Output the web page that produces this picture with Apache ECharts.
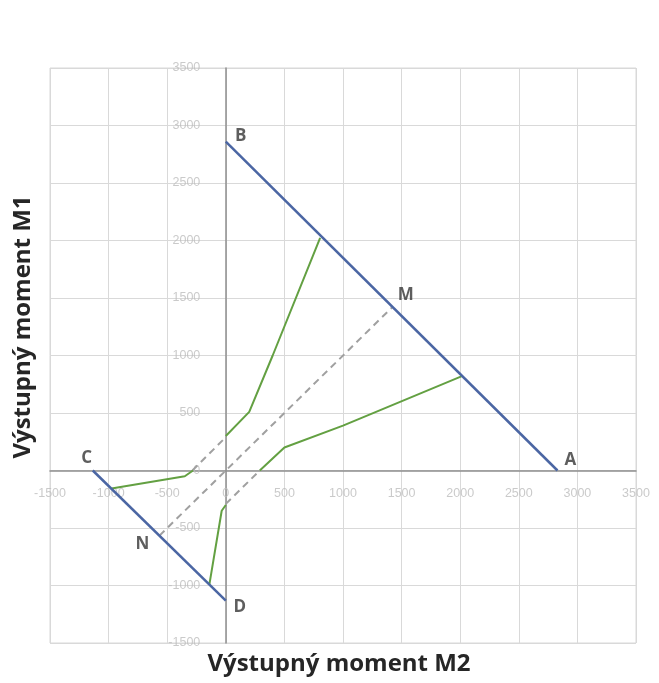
<!DOCTYPE html>
<html>
<head>
<meta charset="utf-8">
<script src="https://cdn.jsdelivr.net/npm/echarts@6/dist/echarts.min.js"></script>
<style>
html,body{margin:0;padding:0;background:#fff;}
#chart{width:659px;height:683px;}
</style>
</head>
<body>
<div id="chart"></div>
<script>
// ---- data ----
var xTitle = 'Výstupný moment M2';
var yTitle = 'Výstupný moment M1';
var axisMin = -1500, axisMax = 3500, axisStep = 500;
var xTickLabels = [-1500, -1000, -500, 0, 500, 1000, 1500, 2000, 2500, 3000, 3500];
var yTickLabels = [-1500, -1000, -500, 0, 500, 1000, 1500, 2000, 2500, 3000, 3500];

var lineBA = [[0, 2860], [2830, 0]];
var lineCD = [[-1135, 0], [0, -1131]];
var greenUpper = [[0, 300], [200, 510], [400, 1000], [805, 2023]];
var greenLower = [[290, 0], [500, 200], [1000, 390], [2010, 818]];
var greenLeft = [[-975, -156], [-350, -50], [-280, 0]];
var greenBottom = [[-140, -990], [-35, -350], [0, -300]];
var dashMid = [[-566, -566], [1416, 1416]];
var dashUpper = [[-285, 0], [0, 290]];
var dashLower = [[0, -290], [290, 0]];

var pointNames = ['A', 'B', 'C', 'D', 'M', 'N'];
var pointX = [2830, 0, -1135, 0, 1416, -566];
var pointY = [0, 2860, 0, -1131, 1416, -566];

// ---- styles ----
var labelOffsets = {A: [13, -10], B: [15, -5], C: [-6, -12], D: [14, 7], M: [14, -13], N: [-17, 9]};
var blue = '#4b66a3', green = '#63a042', dashGray = '#a0a0a0', tickColor = '#bdbdbd';

function lineSeries(data, color, width, dashed) {
  return {
    type: 'line', data: data, showSymbol: false, symbol: 'none', silent: true,
    lineStyle: {color: color, width: width, type: dashed ? [7, 5] : 'solid'},
    z: dashed ? 3 : 4
  };
}

var chart = echarts.init(document.getElementById('chart'), null, {renderer: 'canvas'});
var axisCommon = {
  type: 'value', min: axisMin, max: axisMax, interval: axisStep,
  axisLine: {show: true, onZero: true, lineStyle: {color: '#8e8e8e', width: 1.5}},
  axisTick: {show: false},
  splitLine: {show: true, lineStyle: {color: '#d9d9d9', width: 1}},
  axisLabel: {show: false}
};
var labelData = pointNames.map(function (n, i) {
  return {value: [pointX[i], pointY[i]], name: n,
    label: {show: true, formatter: n, position: 'inside', offset: labelOffsets[n],
      color: '#363636', fontSize: 17, fontWeight: 'bold', fontFamily: 'Open Sans'}};
});
var xTickData = xTickLabels.map(function (v) { return [v, 0]; });
var yTickData = yTickLabels.map(function (v) { return [0, v]; });
var tickFont = {color: tickColor, fontSize: 12.5, fontFamily: 'Liberation Sans'};

chart.setOption({
  animation: false,
  backgroundColor: '#ffffff',
  grid: {left: 50, right: 23, top: 68, bottom: 40, outerBoundsMode: 'none', containLabel: false,
    show: true, borderColor: '#d9d9d9', borderWidth: 1},
  xAxis: axisCommon,
  yAxis: axisCommon,
  graphic: [
    {type: 'text', x: 339, y: 664,
      style: {text: xTitle, fontSize: 24, fontWeight: 'bold', fontFamily: 'Open Sans', fill: '#262626', align: 'center', verticalAlign: 'middle'}},
    {type: 'text', x: 23, y: 327, rotation: Math.PI / 2,
      style: {text: yTitle, fontSize: 24, fontWeight: 'bold', fontFamily: 'Open Sans', fill: '#262626', align: 'center', verticalAlign: 'middle'},
      originX: 0, originY: 0}
  ],
  series: [
    lineSeries(dashMid, dashGray, 2, true),
    lineSeries(dashUpper, dashGray, 2, true),
    lineSeries(dashLower, dashGray, 2, true),
    lineSeries(greenUpper, green, 2, false),
    lineSeries(greenLower, green, 2, false),
    lineSeries(greenLeft, green, 2, false),
    lineSeries(greenBottom, green, 2, false),
    lineSeries(lineBA, blue, 2.5, false),
    lineSeries(lineCD, blue, 2.5, false),
    {type: 'scatter', data: xTickData, symbolSize: 1, itemStyle: {color: 'rgba(0,0,0,0)'}, silent: true, z: 2,
      label: Object.assign({show: true, position: 'inside', offset: [0, 23],
        formatter: function (p) { return String(p.value[0]); }}, tickFont)},
    {type: 'scatter', data: yTickData, symbolSize: 1, itemStyle: {color: 'rgba(0,0,0,0)'}, silent: true, z: 2,
      label: Object.assign({show: true, position: 'left', distance: 25,
        formatter: function (p) { return String(p.value[1]); }}, tickFont)},
    {type: 'scatter', data: labelData, symbolSize: 1, itemStyle: {color: 'rgba(0,0,0,0)'}, silent: true, z: 6}
  ]
});
</script>
</body>
</html>
